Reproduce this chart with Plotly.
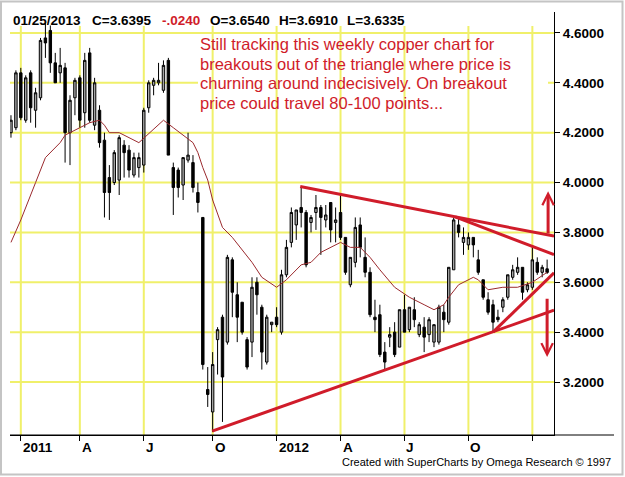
import plotly.graph_objects as go
import pandas as pd

# ---------------- data ----------------
first_week = "2010-12-24"   # weekly bars, Fridays

opens  = [4.20,4.22,4.44,4.25,4.44,4.29,4.34,4.58,4.61,4.48,4.44,4.46,4.20,4.34,4.42,4.28,4.52,4.23,4.29,4.17,4.02,4.00,
          4.01,4.15,4.13,4.03,4.06,4.07,4.30,4.39,4.40,4.37,4.49,4.06,4.05,3.99,4.09,4.08,3.96,3.86,3.17,3.08,3.37,
          3.46,3.36,3.69,3.55,3.52,3.37,3.36,3.60,3.50,3.28,3.43,3.46,3.40,3.63,3.76,3.83,3.90,3.88,3.84,3.88,3.90,3.85,
          3.92,3.84,3.88,3.78,3.59,3.68,3.83,3.70,3.64,3.46,3.47,3.32,3.38,3.40,3.34,3.49,3.41,3.49,3.39,3.42,3.39,
          3.36,3.36,3.48,3.44,3.65,3.83,3.76,3.75,3.78,3.69,3.61,3.53,3.51,3.46,3.50,3.54,3.62,3.64,3.66,3.57,3.58,3.68,3.64,3.654]
highs  = [4.27,4.45,4.46,4.43,4.45,4.38,4.58,4.64,4.63,4.52,4.54,4.48,4.35,4.42,4.43,4.52,4.54,4.42,4.31,4.20,4.07,4.13,
          4.19,4.17,4.15,4.12,4.12,4.30,4.41,4.42,4.48,4.49,4.50,4.08,4.06,4.10,4.20,4.11,4.00,3.86,3.26,3.32,3.42,
          3.47,3.71,3.70,3.60,3.52,3.38,3.62,3.62,3.51,3.47,3.44,3.50,3.65,3.77,3.90,3.89,3.98,3.89,3.87,3.95,3.91,3.91,
          3.92,3.90,3.95,3.78,3.70,3.86,3.86,3.78,3.66,3.53,3.51,3.36,3.42,3.44,3.49,3.55,3.50,3.54,3.44,3.46,3.46,
          3.43,3.51,3.51,3.66,3.86,3.86,3.82,3.80,3.78,3.73,3.61,3.56,3.53,3.49,3.54,3.63,3.67,3.70,3.66,3.60,3.74,3.70,3.67,3.691]
lows   = [4.18,4.21,4.25,4.24,4.24,4.22,4.33,4.50,4.44,4.40,4.40,4.08,4.07,4.27,4.22,4.22,4.24,4.21,4.14,3.86,3.85,3.99,
          3.95,4.02,4.02,4.02,4.02,4.04,4.28,4.35,4.39,4.36,4.11,3.87,3.94,3.93,4.08,3.96,3.88,3.25,3.10,3.00,3.23,
          3.04,3.35,3.46,3.36,3.39,3.25,3.30,3.47,3.25,3.27,3.40,3.42,3.39,3.62,3.74,3.77,3.82,3.66,3.80,3.81,3.71,3.82,
          3.76,3.76,3.77,3.63,3.58,3.66,3.70,3.62,3.46,3.40,3.30,3.25,3.34,3.30,3.34,3.40,3.40,3.42,3.38,3.32,3.36,
          3.34,3.35,3.40,3.43,3.65,3.78,3.71,3.73,3.70,3.63,3.53,3.47,3.40,3.44,3.48,3.53,3.61,3.63,3.53,3.56,3.57,3.63,3.62,3.6335]
closes = [4.25,4.44,4.26,4.42,4.30,4.36,4.57,4.56,4.48,4.40,4.47,4.20,4.33,4.41,4.25,4.49,4.25,4.40,4.16,3.96,3.96,4.12,
          4.18,4.12,4.05,4.10,4.10,4.29,4.40,4.41,4.41,4.47,4.11,3.98,3.98,4.10,4.11,3.98,3.92,3.27,3.15,3.27,3.41,
          3.22,3.70,3.56,3.46,3.40,3.26,3.58,3.55,3.32,3.46,3.44,3.43,3.63,3.74,3.88,3.89,3.88,3.67,3.86,3.90,3.86,3.87,
          3.81,3.85,3.78,3.64,3.70,3.82,3.74,3.64,3.47,3.45,3.31,3.28,3.39,3.31,3.49,3.40,3.50,3.45,3.43,3.38,3.45,
          3.43,3.50,3.45,3.66,3.85,3.80,3.78,3.78,3.75,3.64,3.54,3.48,3.44,3.45,3.53,3.63,3.65,3.66,3.56,3.59,3.69,3.64,3.66,3.6395]

# moving average line, read at selected bars (bar index, price)
ma_bar   = [0,2,5,7,10,11,14,16,18,19,20,22,26,31,33,35,37,38,39,40,41,43,45,49,51,54,56,59,61,63,67,69,71,73,75,78,81,84,86,88,89,91,94,95,97,100,103,106,109]
ma_price = [3.76,3.85,4.00,4.10,4.16,4.19,4.22,4.24,4.25,4.23,4.20,4.20,4.16,4.25,4.22,4.19,4.16,4.12,4.06,4.01,3.93,3.82,3.78,3.68,3.62,3.58,3.61,3.67,3.68,3.72,3.76,3.74,3.74,3.70,3.65,3.58,3.54,3.51,3.49,3.51,3.54,3.59,3.62,3.61,3.57,3.58,3.58,3.60,3.64]

# hand-drawn trend lines: (bar index, price) endpoints
trend_lines = [((58.8, 3.984), (110.4, 3.785)),
               ((90.3, 3.862), (110.4, 3.711)),
               ((40.9, 3.003), (110.4, 3.488)),
               ((98.0, 3.400), (110.4, 3.638))]
# arrows: (bar index, tail price, head price)
arrows = [(109.2, 3.790, 3.965), (109.0, 3.540, 3.300)]

tick_dates  = ["2011-01-07","2011-04-01","2011-07-01","2011-10-07","2012-01-06",
               "2012-04-06","2012-07-06","2012-10-05","2013-01-04"]
tick_labels = ["2011","A","J","O","2012","A","J","O",""]
price_ticks = [3.2,3.4,3.6,3.8,4.0,4.2,4.4,4.6]

header = [("01/25/2013", "black"), ("C=3.6395", "black"), ("-.0240", "#d01c2a"),
          ("O=3.6540", "black"), ("H=3.6910", "black"), ("L=3.6335", "black")]
note_lines = ["Still tracking this weekly copper chart for",
              "breakouts out of the triangle where price is",
              "churning around indecisively. On breakout",
              "price could travel 80-100 points..."]
credit = "Created with SuperCharts by Omega Research © 1997"

# ---------------- layout helpers ----------------
W, H = 625, 477
L, T, PW, PH = 10, 12, 544, 423
def px(X): return (X - L) / PW
def py(Y): return (T + PH - Y) / PH

start = pd.Timestamp(first_week)
def bar_date(i): return start + pd.Timedelta(days=7 * i)
dates = [bar_date(i) for i in range(len(opens))]

RED = "#d01c2a"
YEL = "#f0f06a"
FONT = "Liberation Sans, Arial, sans-serif"

fig = go.Figure()

# grid shapes
shapes = []
for d in tick_dates:
    shapes.append(dict(type="line", xref="x", yref="y", x0=d, x1=d, y0=2.9875, y1=4.628,
                       line=dict(color=YEL, width=2), layer="below"))
for p in price_ticks:
    shapes.append(dict(type="line", xref="paper", yref="y", x0=0, x1=1, y0=p, y1=p,
                       line=dict(color=YEL, width=2), layer="below"))
# white text box behind the note
shapes.append(dict(type="rect", xref="paper", yref="paper", x0=px(198), x1=px(548), y0=py(131), y1=py(34),
                   fillcolor="white", line=dict(width=0), layer="below"))
# bottom axis line extension
shapes.append(dict(type="line", xref="paper", yref="paper", x0=0, x1=px(614), y0=0, y1=0,
                   line=dict(color="black", width=1)))
# outer gray border
shapes.append(dict(type="rect", xref="paper", yref="paper", x0=px(1), x1=px(622.5), y0=py(474.5), y1=py(1.5),
                   line=dict(color="#c4c4c4", width=2)))

fig.add_trace(go.Scatter(x=[bar_date(i) for i in ma_bar], y=ma_price, mode="lines",
                         line=dict(color="#9b2a2e", width=1), hoverinfo="skip", showlegend=False))

fig.add_trace(go.Candlestick(x=dates, open=opens, high=highs, low=lows, close=closes,
                             increasing=dict(line=dict(color="black", width=1), fillcolor="#a4a4a4"),
                             decreasing=dict(line=dict(color="black", width=1), fillcolor="black"),
                             whiskerwidth=0, hoverinfo="skip", showlegend=False))

for (i0, p0), (i1, p1) in trend_lines:
    fig.add_trace(go.Scatter(x=[bar_date(i0), bar_date(i1)], y=[p0, p1], mode="lines",
                             line=dict(color=RED, width=3), hoverinfo="skip", showlegend=False))

ann = []
for i, tail, head in arrows:
    d = bar_date(i)
    ann.append(dict(x=d, y=head, ax=d, ay=tail, xref="x", yref="y", axref="x", ayref="y",
                    text="", showarrow=True, arrowhead=5, arrowsize=0.75, arrowwidth=3,
                    arrowcolor=RED, standoff=0, startstandoff=0))

header_x = [11, 90, 160, 208, 277, 345]
for (txt, col), X in zip(header, header_x):
    ann.append(dict(x=px(X), y=py(20), xref="paper", yref="paper", text=txt, showarrow=False,
                    xanchor="left", yanchor="middle",
                    font=dict(family=FONT, size=13.5, color=col, weight="bold")))

for k, line in enumerate(note_lines):
    ann.append(dict(x=px(198), y=py(44 + 19.5 * k), xref="paper", yref="paper", text=line,
                    showarrow=False, xanchor="left", yanchor="middle",
                    font=dict(family=FONT, size=16.5, color=RED)))

for d, lab in zip(tick_dates, tick_labels):
    if lab:
        ann.append(dict(x=d, y=py(447), xref="x", yref="paper", text=lab, showarrow=False,
                        xanchor="left", yanchor="middle", xshift=0,
                        font=dict(family=FONT, size=13.5, color="black", weight="bold")))

ann.append(dict(x=px(613), y=py(462), xref="paper", yref="paper", text=credit, showarrow=False,
                xanchor="right", yanchor="middle", font=dict(family=FONT, size=11, color="black")))

fig.update_layout(
    width=W, height=H, margin=dict(l=L, r=W - L - PW, t=T, b=H - T - PH),
    paper_bgcolor="white", plot_bgcolor="white",
    shapes=shapes, annotations=ann, showlegend=False,
    xaxis=dict(type="date", range=[bar_date(-0.2), bar_date(110.4)], showgrid=False, zeroline=False,
               tickvals=tick_dates, ticks="outside", ticklen=5, tickcolor="black",
               showticklabels=False, showline=True, linecolor="black", linewidth=1,
               rangeslider=dict(visible=False)),
    yaxis=dict(range=[2.9875, 4.684], side="right", showgrid=False, zeroline=False,
               tickvals=price_ticks, tickformat=".4f", ticks="outside", ticklen=5, tickcolor="black",
               showline=True, linecolor="black", linewidth=1,
               tickfont=dict(family=FONT, size=13.5, color="black", weight="bold")),
)

fig.write_html("out.html")
